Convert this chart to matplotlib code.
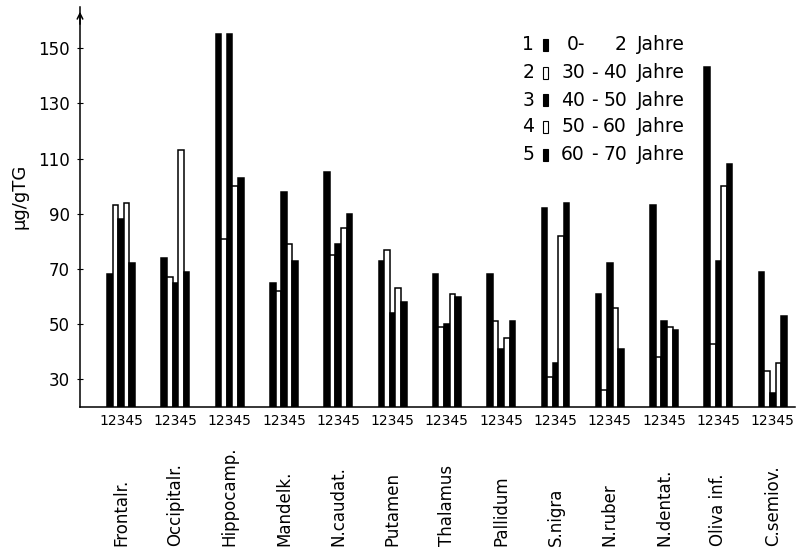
import matplotlib.pyplot as plt
import numpy as np
from matplotlib.patches import Rectangle

plt.rcParams['font.family'] = ['DejaVu Sans']

regions = ["Frontalr.", "Occipitalr.", "Hippocamp.", "Mandelk.", "N.caudat.", "Putamen",
           "Thalamus", "Pallidum", "S.nigra", "N.ruber", "N.dentat.", "Oliva inf.", "C.semiov."]

# values per age group, one entry per region (µg/g TG)
age_0_2 = [68, 74, 155, 65, 105, 73, 68, 68, 92, 61, 93, 143, 69]
age_30_40 = [93, 67, 81, 62, 75, 77, 49, 51, 31, 26, 38, 43, 33]
age_40_50 = [88, 65, 155, 98, 79, 54, 50, 41, 36, 72, 51, 73, 25]
age_50_60 = [94, 113, 100, 79, 85, 63, 61, 45, 82, 56, 49, 100, 36]
age_60_70 = [72, 69, 103, 73, 90, 58, 60, 51, 94, 41, 48, 108, 53]

series = [age_0_2, age_30_40, age_40_50, age_50_60, age_60_70]
age_lo = ["0-", "30", "40", "50", "60"]
age_hi = ["2", "40", "50", "60", "70"]

W, H = 811, 550
fig = plt.figure(figsize=(W / 100, H / 100), dpi=100)
ax = fig.add_axes([80 / W, 143 / H, 715 / W, 400 / H])

x = np.arange(len(regions))
width = 0.103
for j, vals in enumerate(series):
    filled = j % 2 == 0
    ax.bar(x + (j - 2) * width, vals, width=width,
           color='black' if filled else 'white', edgecolor='black', linewidth=1.1)

ax.set_ylim(20, 164.9)
ax.set_xlim(-0.755, 12.41)
ax.set_yticks(np.arange(30, 151, 20))
ax.tick_params(axis='y', direction='inout', length=5, width=0.8, labelsize=12, pad=5)
ax.set_xticks(x, ['12345'] * len(regions))
ax.tick_params(axis='x', length=0, pad=5, labelsize=10)
ax.spines['top'].set_visible(False)
ax.spines['right'].set_visible(False)
ax.spines['left'].set_linewidth(1.1)
ax.spines['bottom'].set_linewidth(1.1)
ax.annotate('', xy=(0, 0.995), xycoords='axes fraction', xytext=(0, 0.95),
            arrowprops=dict(arrowstyle='->', lw=1.1, color='black'))

fig.text(19 / W, 1 - 196 / H, 'µg/gTG', rotation=90, ha='center', va='center', fontsize=13)

for i, name in enumerate(regions):
    ax.text(i, (407 - 546) / 400, name, transform=ax.get_xaxis_transform(), rotation=90,
            ha='center', va='bottom', fontsize=12)

# legend drawn by hand like in the original
rows_y = [45, 73, 100, 127, 155]
for j, yy in enumerate(rows_y):
    fy = 1 - yy / H
    fig.text(534 / W, fy, str(j + 1), ha='right', va='center', fontsize=13.5)
    fig.add_artist(Rectangle((543 / W, fy - 6 / H), 5 / W, 12 / H, transform=fig.transFigure,
                             facecolor='black' if j % 2 == 0 else 'white',
                             edgecolor='black', linewidth=0.8))
    fig.text(585 / W, fy, age_lo[j], ha='right', va='center', fontsize=13.5)
    if j > 0:
        fig.text(594 / W, fy, '-', ha='center', va='center', fontsize=13.5)
    fig.text(627 / W, fy, age_hi[j], ha='right', va='center', fontsize=13.5)
    fig.text(637 / W, fy, 'Jahre', ha='left', va='center', fontsize=13.5)

fig.savefig('out.png', dpi=100)
